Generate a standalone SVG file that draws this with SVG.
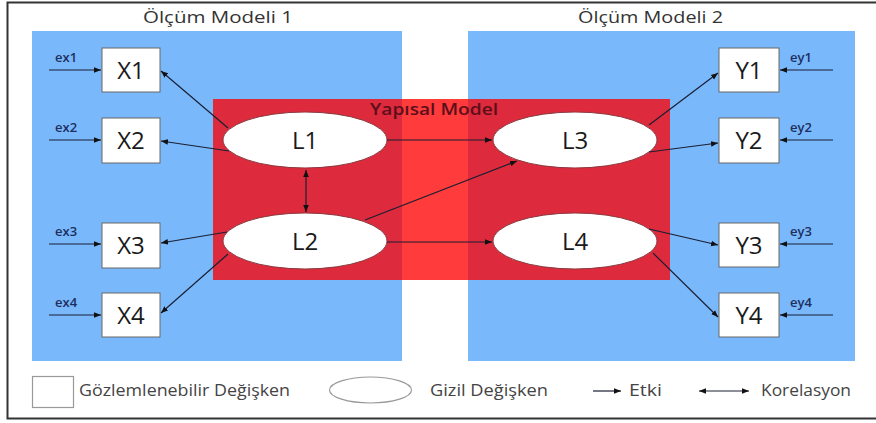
<svg xmlns="http://www.w3.org/2000/svg" width="876" height="423" viewBox="0 0 876 423">
<defs>
<marker id="ah" viewBox="0 0 10 10" refX="10" refY="5" markerWidth="7" markerHeight="7" orient="auto-start-reverse" markerUnits="userSpaceOnUse">
<path d="M0,1 L10,5 L0,9 z" fill="#111"/>
</marker>
<style>
.t{font-family:"Open Sans","Liberation Sans",sans-serif;fill:#222}
.title{font-size:17px;fill:#333}
.box{fill:#fff;stroke:#666;stroke-width:1}
.lat{fill:#fff;stroke:#8a3a40;stroke-width:1}
.lbl{font-size:24px;text-anchor:middle;fill:#1a1a1a}
.err{font-size:13px;font-weight:600;fill:#1c2f5c}
.c line{stroke:#1a1f33;stroke-width:1.2;marker-end:url(#ah)}
.leg{font-size:16px;fill:#444}
</style>
</defs>
<rect x="0" y="0" width="876" height="423" fill="#fff"/>
<path d="M880,2.5 H7.5 V418.5 H880" fill="none" stroke="#333" stroke-width="2"/>
<text class="t title" x="143" y="23" textLength="150" lengthAdjust="spacingAndGlyphs">Ölçüm Modeli 1</text>
<text class="t title" x="578" y="23" textLength="145" lengthAdjust="spacingAndGlyphs">Ölçüm Modeli 2</text>
<rect x="32" y="31" width="370" height="330" fill="#7ab8fc"/>
<rect x="468" y="31" width="387" height="330" fill="#7ab8fc"/>
<rect x="213" y="99" width="189" height="181" fill="#dd2a3c"/>
<rect x="402" y="99" width="66" height="181" fill="#ff3b3b"/>
<rect x="468" y="99" width="202" height="181" fill="#dd2a3c"/>
<text class="t" x="370" y="115" font-size="16" font-weight="600" style="fill:#5c0f1a" textLength="128" lengthAdjust="spacingAndGlyphs">Yapısal Model</text>
<g id="X1"><rect class="box" x="102" y="48" width="58" height="44"/><text class="t lbl" x="131" y="79">X1</text></g>
<g id="X2"><rect class="box" x="102" y="118" width="58" height="45"/><text class="t lbl" x="131" y="149">X2</text></g>
<g id="X3"><rect class="box" x="102" y="223" width="58" height="45"/><text class="t lbl" x="131" y="254">X3</text></g>
<g id="X4"><rect class="box" x="102" y="293" width="58" height="44"/><text class="t lbl" x="131" y="324">X4</text></g>
<g id="Y1"><rect class="box" x="719" y="48" width="60" height="44"/><text class="t lbl" x="749" y="79">Y1</text></g>
<g id="Y2"><rect class="box" x="719" y="118" width="60" height="45"/><text class="t lbl" x="749" y="149">Y2</text></g>
<g id="Y3"><rect class="box" x="719" y="223" width="60" height="44"/><text class="t lbl" x="749" y="254">Y3</text></g>
<g id="Y4"><rect class="box" x="719" y="293" width="60" height="44"/><text class="t lbl" x="749" y="324">Y4</text></g>
<g id="L1"><ellipse class="lat" cx="305" cy="140" rx="82" ry="28"/><text class="t lbl" x="305" y="149">L1</text></g>
<g id="L2"><ellipse class="lat" cx="305" cy="241" rx="82" ry="28"/><text class="t lbl" x="305" y="250">L2</text></g>
<g id="L3"><ellipse class="lat" cx="575" cy="140" rx="82" ry="28"/><text class="t lbl" x="575" y="149">L3</text></g>
<g id="L4"><ellipse class="lat" cx="575" cy="241" rx="82" ry="28"/><text class="t lbl" x="575" y="250">L4</text></g>
<g id="errors">
<text class="t err" x="55" y="62">ex1</text>
<text class="t err" x="55" y="132">ex2</text>
<text class="t err" x="55" y="236">ex3</text>
<text class="t err" x="55" y="307">ex4</text>
<text class="t err" x="790" y="62">ey1</text>
<text class="t err" x="790" y="132">ey2</text>
<text class="t err" x="790" y="236">ey3</text>
<text class="t err" x="790" y="307">ey4</text>
</g>
<g id="connectors" class="c">
<line x1="49" y1="70" x2="101" y2="70"/>
<line x1="49" y1="140" x2="101" y2="140"/>
<line x1="49" y1="244" x2="101" y2="244"/>
<line x1="49" y1="315" x2="101" y2="315"/>
<line x1="833" y1="70" x2="780" y2="70"/>
<line x1="833" y1="140" x2="780" y2="140"/>
<line x1="833" y1="244" x2="780" y2="244"/>
<line x1="833" y1="315" x2="780" y2="315"/>
<line x1="228" y1="128" x2="161" y2="71"/>
<line x1="229" y1="151" x2="161" y2="141"/>
<line x1="227" y1="232" x2="161" y2="243"/>
<line x1="228" y1="254" x2="161" y2="313"/>
<line x1="306" y1="170" x2="306" y2="212" marker-start="url(#ah)"/>
<line x1="387" y1="140" x2="492" y2="140"/>
<line x1="365" y1="220" x2="517" y2="161"/>
<line x1="387" y1="242" x2="492" y2="242"/>
<line x1="649" y1="125" x2="718" y2="73"/>
<line x1="649" y1="152" x2="718" y2="143"/>
<line x1="649" y1="229" x2="718" y2="245"/>
<line x1="653" y1="253" x2="718" y2="317"/>
</g>
<g id="legend">
<rect x="32.5" y="376.5" width="41" height="31" fill="#fff" stroke="#999" stroke-width="1.2"/>
<text class="t leg" x="79" y="396" textLength="211" lengthAdjust="spacingAndGlyphs">Gözlemlenebilir Değişken</text>
<ellipse cx="370.5" cy="390" rx="41" ry="13" fill="#fff" stroke="#999" stroke-width="1.2"/>
<text class="t leg" x="430" y="396" textLength="118" lengthAdjust="spacingAndGlyphs">Gizil Değişken</text>
<g class="c"><line x1="593" y1="391" x2="621" y2="391"/>
<line x1="699" y1="391" x2="749" y2="391" marker-start="url(#ah)"/></g>
<text class="t leg" x="629" y="396" textLength="33" lengthAdjust="spacingAndGlyphs">Etki</text>
<text class="t leg" x="761" y="396" textLength="90" lengthAdjust="spacingAndGlyphs">Korelasyon</text>
</g>
</svg>
